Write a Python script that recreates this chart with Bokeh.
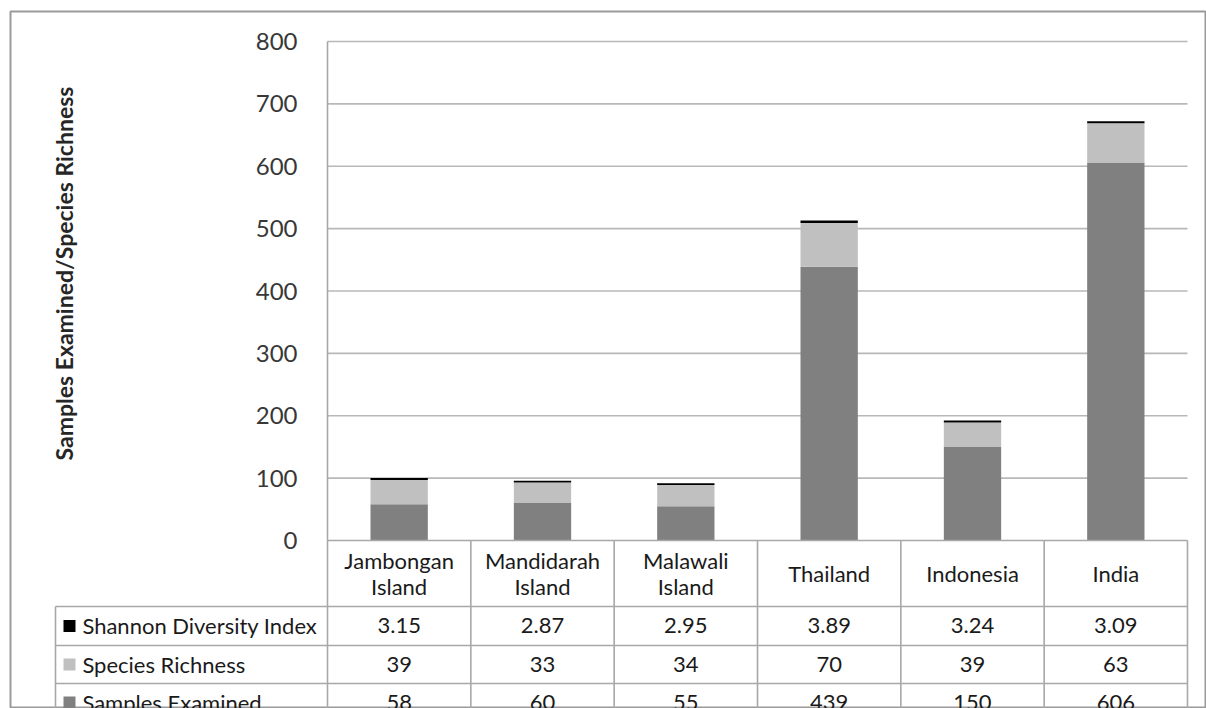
import math
from bokeh.plotting import figure
from bokeh.models import ColumnDataSource, Range1d, FixedTicker
from bokeh.core.properties import value
from bokeh.embed import file_html
from bokeh.resources import INLINE

# ---- data ----
categories = ["Jambongan\nIsland", "Mandidarah\nIsland", "Malawali\nIsland", "Thailand", "Indonesia", "India"]
samples_examined = [58, 60, 55, 439, 150, 606]
species_richness = [39, 33, 34, 70, 39, 63]
shannon_index = [3.15, 2.87, 2.95, 3.89, 3.24, 3.09]
series_names = ["Shannon Diversity Index", "Species Richness", "Samples Examined"]
y_ticks = [0, 100, 200, 300, 400, 500, 600, 700, 800]
y_title = "Samples Examined/Species Richness"

FONT = "Lato"
C_SAMPLES = "#808080"
C_RICH = "#c0c0c0"
C_SHAN = "#000000"
LINE = "#a8a8a8"
GRID = "#b8b8b8"
TXT = "#1a1a1a"

n = len(categories)
xs = [i + 0.5 for i in range(n)]

p = figure(width=1206, height=708, output_backend="svg", toolbar_location=None,
           x_range=Range1d(-2.2116, 6.1326), y_range=Range1d(-269.34, 848.1),
           x_axis_location=None, min_border_left=10, min_border_top=11,
           min_border_right=0, min_border_bottom=0)
p.background_fill_color = "white"
p.border_fill_color = "white"
p.outline_line_color = "#9a9a9a"
p.outline_line_width = 2
p.xgrid.visible = False
p.ygrid.visible = False

# y axis placed at the left edge of the plot area
ax = p.yaxis[0]
ax.fixed_location = 0
ax.ticker = FixedTicker(ticks=y_ticks)
ax.axis_line_color = None
ax.major_tick_line_color = None
ax.minor_tick_line_color = None
ax.major_label_standoff = 24
ax.major_label_text_font = FONT
ax.major_label_text_font_size = "24px"
ax.major_label_text_color = "#383838"

# gridlines
grid_y = [t for t in y_ticks if t > 0]
p.segment(x0=[0] * len(grid_y), x1=[n] * len(grid_y), y0=grid_y, y1=grid_y,
          line_color=GRID, line_width=1.6)

# stacked bars
src = ColumnDataSource(dict(x=xs, samples=samples_examined, rich=species_richness, shan=shannon_index))
p.vbar_stack(["samples", "rich", "shan"], x="x", width=0.4, source=src,
             color=[C_SAMPLES, C_RICH, C_SHAN], line_color=None)

# ---- data table ----
ppu_y = 697 / (848.1 + 269.34)  # px per data unit
def py(px_from_zero):
    return -px_from_zero / ppu_y

row_lines = [py(66), py(105), py(143)]
table_bottom = py(200)
leg_left = -1.8977

# horizontal table lines
p.segment(x0=[0], x1=[n], y0=[0], y1=[0], line_color=LINE, line_width=1.6)
p.segment(x0=[leg_left] * 3, x1=[n] * 3, y0=row_lines, y1=row_lines, line_color=LINE, line_width=1.6)
# vertical table lines
vx = list(range(0, n + 1))
p.segment(x0=vx, x1=vx, y0=[0] * len(vx), y1=[table_bottom] * len(vx), line_color=LINE, line_width=1.6)
p.segment(x0=[0], x1=[0], y0=[800], y1=[0], line_color=LINE, line_width=1.6)
p.segment(x0=[leg_left], x1=[leg_left], y0=[row_lines[0]], y1=[table_bottom], line_color=LINE, line_width=1.6)

# header texts
p.text(x=xs, y=[py(33)] * n, text=categories, text_align="center", text_baseline="middle",
       text_font=value(FONT), text_font_size="22px", text_color=TXT, text_line_height=0.95)

row_centers = [py(85.5), py(124), py(162)]
rows = [[f"{v:.2f}" for v in shannon_index],
        [str(v) for v in species_richness],
        [str(v) for v in samples_examined]]
for rc, vals in zip(row_centers, rows):
    p.text(x=xs, y=[rc] * n, text=vals, text_align="center", text_baseline="middle",
           text_font=value(FONT), text_font_size="22px", text_color=TXT)

# legend column
leg_colors = [C_SHAN, C_RICH, C_SAMPLES]
p.scatter(x=[-1.80] * 3, y=row_centers, marker="square", size=12, color=leg_colors, line_color=None)
p.text(x=[-1.71] * 3, y=row_centers, text=series_names, text_align="left", text_baseline="middle",
       text_font=value(FONT), text_font_size="22px", text_color=TXT)

# y axis title
p.text(x=[-1.835], y=[428], text=[y_title], angle=math.pi / 2, text_align="center",
       text_baseline="middle", text_font=value(FONT), text_font_size="23px",
       text_font_style="bold", text_color="#262626")

open("out.html", "w").write(file_html(p, INLINE))
